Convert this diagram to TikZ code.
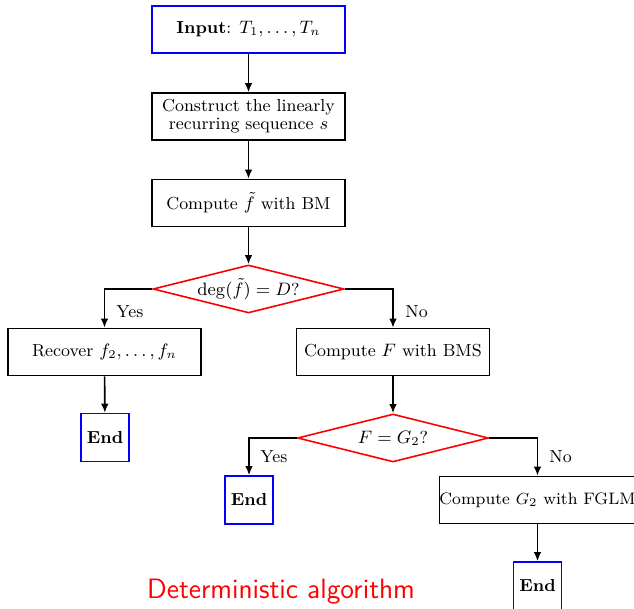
\documentclass[tikz,border=0pt]{standalone}
\usetikzlibrary{shapes.geometric,arrows.meta}
\begin{document}
\begin{tikzpicture}[x=0.5pt,y=-0.5pt,
  every node/.style={font=\fontsize{8.7}{10.4}\selectfont},
  procbox/.style={draw=black,line width=0.8pt,minimum width=96.5pt,minimum height=23.5pt,inner sep=1pt,align=center},
  startbox/.style={procbox,draw=blue},
  endbox/.style={draw=blue,line width=0.8pt,minimum width=24pt,minimum height=24pt,inner sep=0pt,font=\fontsize{8.7}{10.4}\selectfont\bfseries},
  decision/.style={diamond,draw=red,line width=0.8pt,minimum width=95.5pt,minimum height=24pt,inner sep=0pt,aspect=4},
  flow/.style={line width=0.8pt,-{Latex[length=4.5pt,width=3.8pt]}},
  branch/.style={inner sep=0pt,anchor=west}]
\useasboundingbox (0,0) rectangle (634,609);

\node[startbox] (input) at (248.5,29.5) {\textbf{Input}: $T_1,\dots,T_n$};
\node[procbox] (lrs) at (248.5,116.5) {Construct the linearly\\[-1.4pt]recurring sequence $s$};
\node[procbox] (bm) at (248.5,203) {Compute $\tilde f$ with BM};
\node[decision] (deg) at (248.5,289) {$\deg(\tilde f)=D$?};
\node[procbox] (rec) at (104.5,352) {Recover $f_2,\dots,f_n$};
\node[procbox] (bms) at (393,352) {Compute $F$ with BMS};
\node[endbox] (end1) at (105,437.5) {End};
\node[decision] (eq) at (393,438) {$F=G_2$?};
\node[endbox] (end2) at (249,500) {End};
\node[procbox,inner xsep=0pt,font=\fontsize{8.3}{10}\selectfont] (fglm) at (537.5,500) {Compute $G_2$ with FGLM};
\node[endbox] (end3) at (537.5,586) {End};

\draw[flow] (input) -- (lrs);
\draw[flow] (lrs) -- (bm);
\draw[flow] (bm) -- (deg);
\draw[flow] (deg.west) -| (rec.north);
\draw[flow] (deg.east) -| (bms.north);
\draw[flow] (rec) -- (end1);
\draw[flow] (bms) -- (eq);
\draw[flow] (eq.west) -| (end2.north);
\draw[flow] (eq.east) -| (fglm.north);
\draw[flow] (fglm) -- (end3);

\node[branch] (y1) at (116,312) {Yes};
\node[branch] (n1) at (405,312) {No};
\node[branch] (y2) at (260,457) {Yes};
\node[branch] (n2) at (549,457) {No};

\node[text=red,font=\sffamily\fontsize{14}{16}\selectfont] (title) at (281,592) {Deterministic algorithm};
\end{tikzpicture}
\end{document}
